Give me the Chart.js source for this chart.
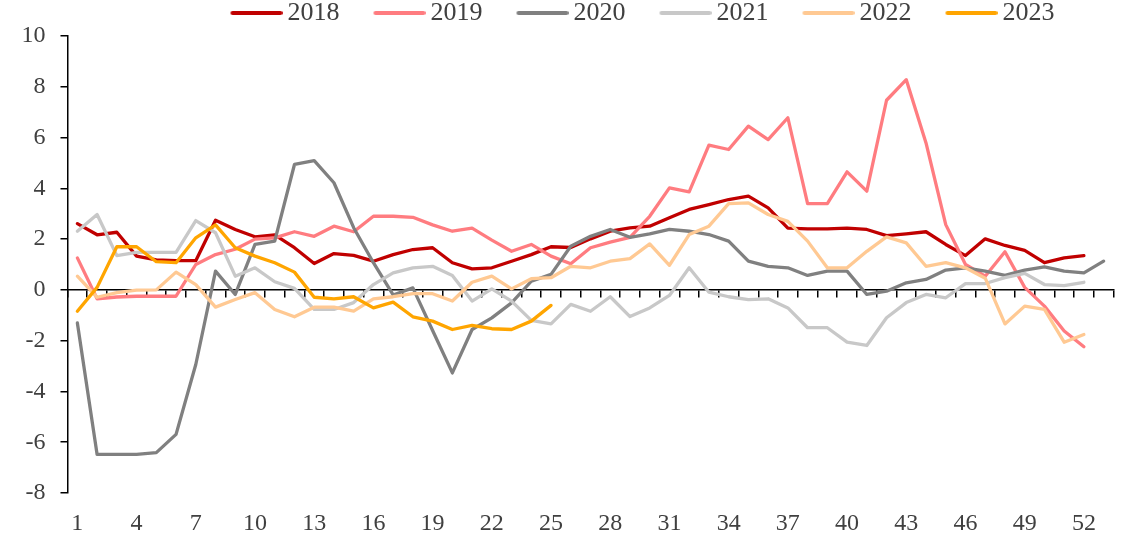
<!DOCTYPE html>
<html>
<head>
<meta charset="utf-8">
<script src="https://cdn.jsdelivr.net/npm/chart.js@4"></script>
<style>
html,body{margin:0;padding:0;background:#fff;}
#wrap{width:1130px;height:542px;position:relative;}
</style>
</head>
<body>
<div id="wrap"><canvas id="c"></canvas></div>
<script>
const weeks = ['1','2','3','4','5','6','7','8','9','10','11','12','13','14','15','16','17','18','19','20',
  '21','22','23','24','25','26','27','28','29','30','31','32','33','34','35','36','37','38','39','40',
  '41','42','43','44','45','46','47','48','49','50','51','52','53'];
const tickLabels = ['1','4','7','10','13','16','19','22','25','28','31','34','37','40','43','46','49','52'];

const seriesNames = ['2018','2019','2020','2021','2022','2023'];
const seriesColors = ['#C00000','#FF7C80','#808080','#C8C8C8','#FFC993','#FFA500'];

const s2018 = [2.61,2.17,2.27,1.33,1.18,1.15,1.15,2.74,2.38,2.09,
  2.17,1.66,1.04,1.43,1.36,1.13,1.39,1.59,1.66,1.07,
  0.83,0.87,1.13,1.39,1.70,1.67,2.01,2.31,2.44,2.51,
  2.84,3.17,3.36,3.56,3.69,3.23,2.43,2.40,2.40,2.43,
  2.38,2.14,2.21,2.29,1.79,1.35,2.01,1.75,1.56,1.07,
  1.26,1.35];
const s2019 = [1.26,-0.35,-0.28,-0.25,-0.25,-0.25,1.00,1.39,1.60,2.00,
  2.05,2.29,2.11,2.51,2.29,2.90,2.90,2.86,2.56,2.31,
  2.43,1.96,1.52,1.79,1.33,1.03,1.66,1.88,2.07,2.90,
  4.02,3.86,5.70,5.53,6.45,5.92,6.78,3.40,3.40,4.65,
  3.89,7.47,8.28,5.79,2.57,1.00,0.54,1.50,0.10,-0.64,
  -1.62,-2.24];
const s2020 = [-1.30,-6.48,-6.48,-6.48,-6.41,-5.69,-2.94,0.74,-0.18,1.79,
  1.92,4.94,5.09,4.22,2.45,1.07,-0.20,0.08,-1.60,-3.27,
  -1.56,-1.10,-0.51,0.34,0.61,1.72,2.11,2.38,2.07,2.21,
  2.38,2.31,2.18,1.92,1.13,0.93,0.87,0.57,0.74,0.74,
  -0.18,-0.05,0.28,0.41,0.78,0.87,0.74,0.57,0.78,0.91,
  0.74,0.67,1.13];
const s2021 = [2.31,2.97,1.35,1.48,1.48,1.48,2.73,2.25,0.54,0.87,
  0.32,0.06,-0.77,-0.77,-0.50,0.21,0.67,0.87,0.93,0.57,
  -0.44,0.04,-0.44,-1.20,-1.34,-0.57,-0.84,-0.27,-1.05,-0.71,
  -0.22,0.87,-0.09,-0.27,-0.38,-0.35,-0.71,-1.49,-1.49,-2.06,
  -2.19,-1.10,-0.50,-0.18,-0.31,0.25,0.25,0.48,0.65,0.21,
  0.17,0.30];
const s2022 = [0.54,-0.29,-0.11,-0.01,0.00,0.70,0.21,-0.68,-0.38,-0.11,
  -0.77,-1.06,-0.68,-0.68,-0.84,-0.35,-0.27,-0.15,-0.15,-0.44,
  0.30,0.54,0.04,0.44,0.48,0.93,0.87,1.13,1.23,1.81,
  0.97,2.18,2.51,3.40,3.43,2.97,2.70,1.92,0.87,0.87,
  1.52,2.09,1.85,0.93,1.07,0.87,0.46,-1.34,-0.64,-0.77,
  -2.06,-1.76];
const s2023 = [-0.84,0.10,1.70,1.70,1.11,1.07,2.05,2.56,1.66,1.33,
  1.07,0.70,-0.29,-0.35,-0.27,-0.71,-0.48,-1.06,-1.23,-1.56,
  -1.40,-1.53,-1.56,-1.23,-0.61];

const seriesData = [s2018, s2019, s2020, s2021, s2022, s2023];

const FONT = 'Liberation Serif';
const TEXT = '#404040';

// legend sample: a short rounded line drawn as a point-style image
function legendLine(color) {
  const c = document.createElement('canvas');
  c.width = 94; c.height = 8;
  const g = c.getContext('2d');
  g.strokeStyle = color; g.lineWidth = 4; g.lineCap = 'round';
  g.beginPath(); g.moveTo(44, 4); g.lineTo(92, 4); g.stroke();
  return c;
}

const datasets = seriesNames.map((name, i) => ({
  label: name,
  data: seriesData[i],
  xAxisID: 'x',
  yAxisID: 'y',
  borderColor: seriesColors[i],
  backgroundColor: seriesColors[i],
  borderWidth: 3.3,
  borderJoinStyle: 'round',
  borderCapStyle: 'round',
  pointRadius: 0,
  pointHoverRadius: 0,
  pointStyle: legendLine(seriesColors[i]),
  tension: 0,
  fill: false,
  order: seriesNames.length - i
}));

const legendShift = {
  id: 'legendShift',
  afterLayout(chart) {
    if (chart.legend) { chart.legend.left += 58; chart.legend.right += 58; }
  }
};

new Chart(document.getElementById('c'), {
  type: 'line',
  data: { labels: weeks, datasets },
  options: {
    responsive: true,
    maintainAspectRatio: false,
    animation: false,
    layout: { padding: { left: 21.5, right: 16.5, top: 0, bottom: 0 } },
    plugins: {
      legend: {
        position: 'top',
        align: 'center',
        labels: {
          usePointStyle: true,
          pointStyleWidth: 78,
          padding: 0,
          color: TEXT,
          font: { family: FONT, size: 26 },
          sort: (a, b) => a.datasetIndex - b.datasetIndex
        }
      },
      tooltip: { enabled: false }
    },
    scales: {
      x: {
        type: 'category',
        position: 'bottom',
        offset: true,
        grid: { display: false, drawTicks: false, offset: true },
        border: { display: false },
        ticks: {
          autoSkip: false,
          maxRotation: 0,
          minRotation: 0,
          padding: 16,
          color: TEXT,
          font: { family: FONT, size: 24 },
          callback: function (v) {
            const l = this.getLabelForValue(v);
            return tickLabels.includes(l) ? l : '';
          }
        },
        afterFit: (s) => { s.height = 49; }
      },
      x0: {
        type: 'category',
        axis: 'x',
        position: { y: 0 },
        offset: true,
        grid: { display: true, drawOnChartArea: false, drawTicks: true, tickLength: 7, color: '#000', lineWidth: 1.5, offset: true },
        border: { display: true, color: '#000', width: 1.5 },
        ticks: { display: false }
      },
      y: {
        position: 'left',
        min: -8,
        max: 10,
        ticks: { stepSize: 2, padding: 15, color: TEXT, font: { family: FONT, size: 24 } },
        grid: { display: true, drawOnChartArea: false, drawTicks: true, tickLength: 7, color: '#000', lineWidth: 1.5 },
        border: { display: true, color: '#000', width: 1.5 },
        afterFit: (s) => { s.width = 46; }
      }
    }
  },
  plugins: [legendShift]
});
</script>
</body>
</html>
